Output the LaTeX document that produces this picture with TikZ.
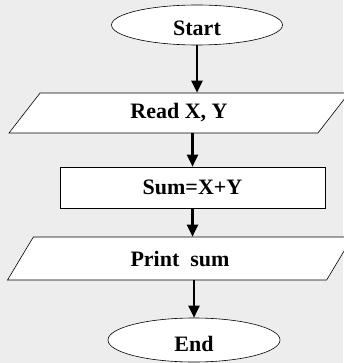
\documentclass[tikz,border=0pt]{standalone}
\usepackage{fontspec}
\setmainfont{Liberation Serif}
\usetikzlibrary{arrows.meta,shapes.geometric}

\definecolor{bggray}{RGB}{237,237,237}

\begin{document}
\begin{tikzpicture}[x=1pt, y=1pt,
	every node/.style={font=\bfseries\fontsize{22}{26}\selectfont, draw, line width=0.6pt, fill=white, inner sep=0pt},
	term/.style={ellipse, minimum width=171, minimum height=40, text height=22pt, text depth=0pt},
	io/.style={trapezium, trapezium left angle=31, trapezium right angle=149, trapezium stretches body, minimum height=40, minimum width=340},
	proc/.style={rectangle, minimum width=265, minimum height=41},
	flow/.style={line width=2.4pt, -{Triangle[length=12pt,width=11pt]}}]
	\fill[bggray] (0,0) rectangle (343,-363);
	\useasboundingbox (0,0) rectangle (343,-363);
	\node[term] (start) at (197,-25) {Start};
	\node[io] (read) at (179,-113) {Read X, Y};
	\node[proc] (sum) at (192.5,-187.5) {Sum=X+Y};
	\node[io, minimum height=43, minimum width=345] (print) at (180,-258.5) {Print\ \ sum};
	\node[term, minimum width=172, minimum height=44] (stop) at (194,-340) {End};
	\draw[flow] (start) -- (start.south |- read.north);
	\draw[flow] (sum.north |- read.south) -- (sum);
	\draw[flow] (sum) -- (sum.south |- print.north);
	\draw[flow] (stop.north |- print.south) -- (stop);
\end{tikzpicture}
\end{document}
